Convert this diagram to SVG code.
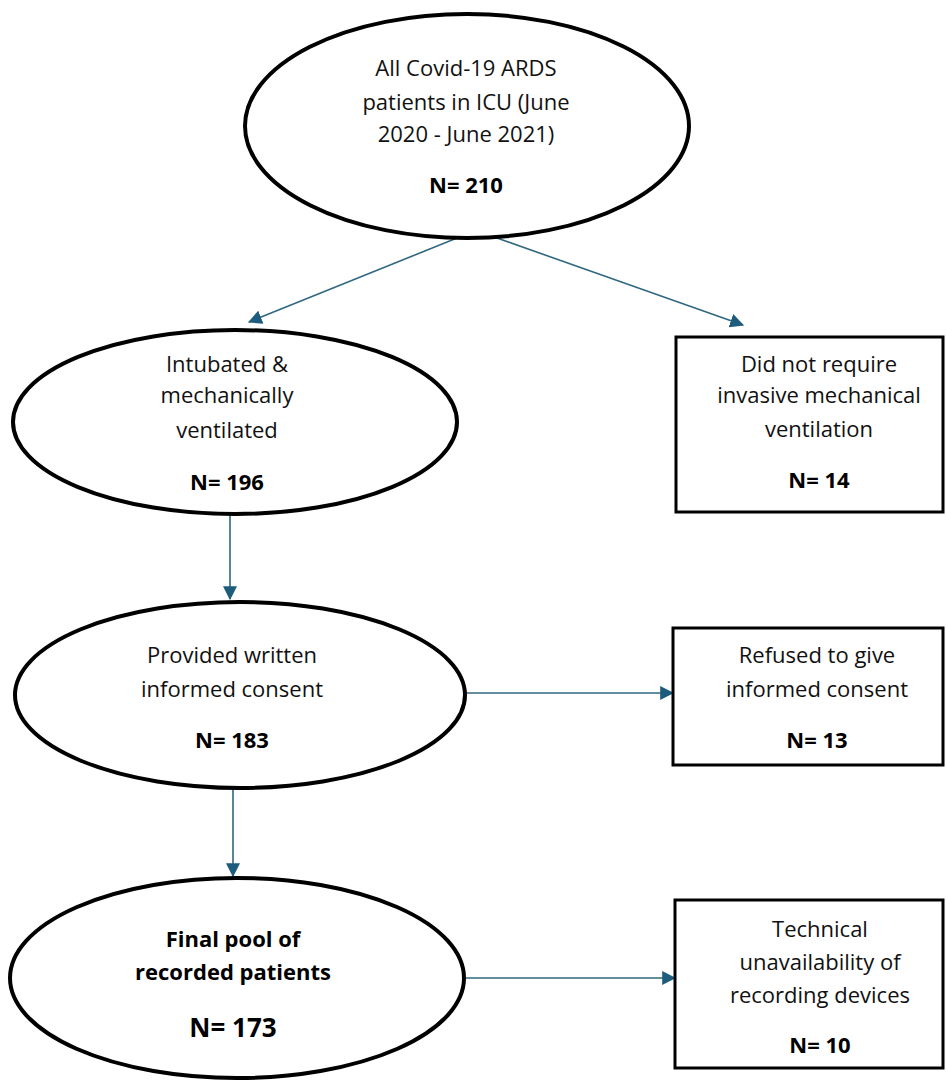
<svg xmlns="http://www.w3.org/2000/svg" width="946" height="1081" viewBox="0 0 946 1081">
<style>
.node{fill:#fff;stroke:#000}
.ell{stroke-width:4}
.box{stroke-width:3}
text{font-family:"Open Sans","Liberation Sans",Arial,sans-serif;font-size:22px;fill:#111;text-anchor:middle}
.b{font-weight:bold;fill:#000}
.big{font-size:26px}
.conn{stroke:#2f6880;stroke-width:1.6;fill:none;marker-end:url(#ah)}
</style>
<defs>
<marker id="ah" viewBox="0 0 12 12" refX="11" refY="6" markerWidth="14" markerHeight="14" markerUnits="userSpaceOnUse" orient="auto">
<path d="M0,0 L12,6 L0,12 Z" fill="#1d5c7c"/>
</marker>
</defs>
<rect width="946" height="1081" fill="#fff"/>
<g id="connectors">
<line class="conn" x1="457" y1="238" x2="249" y2="322"/>
<line class="conn" x1="497" y1="238" x2="743" y2="325"/>
<line class="conn" x1="230" y1="515" x2="230" y2="599"/>
<line class="conn" x1="465" y1="693" x2="673" y2="693"/>
<line class="conn" x1="233" y1="789" x2="233" y2="876"/>
<line class="conn" x1="465" y1="978" x2="675" y2="978"/>
</g>
<g id="n-all">
<ellipse class="node ell" cx="467" cy="126" rx="222" ry="112"/>
<text x="466" y="76">All Covid-19 ARDS</text>
<text x="466" y="110">patients in ICU (June</text>
<text x="466" y="142">2020 - June 2021)</text>
<text class="b" x="466" y="193">N= 210</text>
</g>
<g id="n-intubated">
<ellipse class="node ell" cx="235" cy="422" rx="222" ry="92"/>
<text x="227" y="372">Intubated &amp;</text>
<text x="227" y="403">mechanically</text>
<text x="227" y="438">ventilated</text>
<text class="b" x="227" y="490">N= 196</text>
</g>
<g id="n-noinvasive">
<rect class="node box" x="676" y="337" width="267" height="175"/>
<text x="819" y="372">Did not require</text>
<text x="819" y="403">invasive mechanical</text>
<text x="819" y="437">ventilation</text>
<text class="b" x="819" y="488">N= 14</text>
</g>
<g id="n-consent">
<ellipse class="node ell" cx="240" cy="695" rx="225" ry="93"/>
<text x="232" y="663">Provided written</text>
<text x="232" y="697">informed consent</text>
<text class="b" x="232" y="748">N= 183</text>
</g>
<g id="n-refused">
<rect class="node box" x="673" y="628" width="270" height="137"/>
<text x="817" y="663">Refused to give</text>
<text x="817" y="697">informed consent</text>
<text class="b" x="817" y="748">N= 13</text>
</g>
<g id="n-final">
<ellipse class="node ell" cx="237" cy="978" rx="227" ry="100"/>
<text class="b" x="233" y="947">Final pool of</text>
<text class="b" x="233" y="980">recorded patients</text>
<text class="b big" x="233" y="1037">N= 173</text>
</g>
<g id="n-technical">
<rect class="node box" x="675" y="900" width="268" height="168"/>
<text x="820" y="937">Technical</text>
<text x="820" y="970">unavailability of</text>
<text x="820" y="1003">recording devices</text>
<text class="b" x="820" y="1053">N= 10</text>
</g>
</svg>
